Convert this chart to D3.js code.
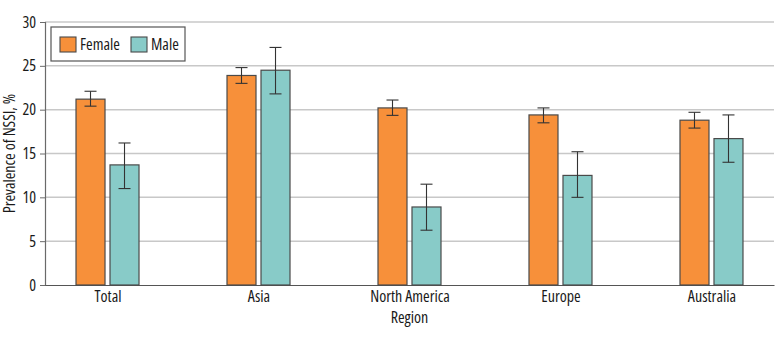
<!DOCTYPE html>
<html>
<head>
<meta charset="utf-8">
<script src="https://cdn.jsdelivr.net/npm/d3@7"></script>
<style>
  body { margin: 0; background: #fff; }
  svg { display: block; }
  svg text { font-stretch: 85%; font-weight: 500; }
</style>
</head>
<body>
<div id="chart"></div>
<script>
// data
var regions = ["Total", "Asia", "North America", "Europe", "Australia"];
var groups = ["Female", "Male"];
var femaleVals = [21.2, 23.9, 20.2, 19.4, 18.8];
var femaleLow = [20.4, 23.0, 19.35, 18.5, 17.9];
var femaleHigh = [22.1, 24.8, 21.1, 20.2, 19.7];
var maleVals = [13.7, 24.5, 8.9, 12.5, 16.7];
var maleLow = [11.0, 21.8, 6.25, 10.0, 14.0];
var maleHigh = [16.2, 27.1, 11.5, 15.2, 19.4];
var yTicks = [0, 5, 10, 15, 20, 25, 30];

var colors = { Female: "#f7903a", Male: "#88cbc8" };
var font = "'Open Sans', 'DejaVu Sans Condensed', sans-serif";
var fs = 16;

var width = 783, height = 338;
var margin = { top: 22, right: 9, bottom: 53, left: 45 };
var innerWidth = width - margin.left - margin.right,
  innerHeight = height - margin.top - margin.bottom;

var rows = [];
regions.forEach(function(r, i) {
  rows.push({ region: r, group: "Female", v: femaleVals[i], lo: femaleLow[i], hi: femaleHigh[i] });
  rows.push({ region: r, group: "Male", v: maleVals[i], lo: maleLow[i], hi: maleHigh[i] });
});

var svg = d3.select("#chart").append("svg")
  .attr("width", width)
  .attr("height", height)
  .attr("font-family", font);

var g = svg.append("g")
  .attr("transform", "translate(" + margin.left + "," + margin.top + ")");

var x0 = d3.scalePoint().domain(regions).range([0, innerWidth]).padding(0.414);
var x1 = d3.scaleBand().domain(groups).range([-31.5, 31.5]).paddingInner(5 / 34);
var y = d3.scaleLinear().domain([0, 30]).range([innerHeight, 0]);

// gridlines
g.append("g").selectAll("line")
  .data(yTicks.filter(function(t) { return t > 0; }))
  .enter().append("line")
  .attr("x1", 0).attr("x2", innerWidth)
  .attr("y1", function(d) { return y(d); })
  .attr("y2", function(d) { return y(d); })
  .attr("stroke", "#c8c8c8")
  .attr("stroke-width", 1.5);

// y axis
var yAxis = g.append("g")
  .call(d3.axisLeft(y).tickValues(yTicks).tickSize(5).tickPadding(4))
  .attr("font-family", font)
  .attr("font-size", fs);
yAxis.select(".domain").attr("stroke", "#6a6a6a").attr("stroke-width", 1.2);
yAxis.selectAll(".tick line").attr("stroke", "#6a6a6a");
yAxis.selectAll("text").attr("fill", "#1a1a1a");

// x axis
var xAxis = g.append("g")
  .attr("transform", "translate(0," + innerHeight + ")")
  .call(d3.axisBottom(x0).tickSize(0).tickPadding(6).tickSizeOuter(0))
  .attr("font-family", font)
  .attr("font-size", fs);
xAxis.select(".domain").attr("stroke", "#555").attr("stroke-width", 1.2);
xAxis.selectAll("text").attr("fill", "#1a1a1a");

// bars
g.append("g").selectAll("rect")
  .data(rows)
  .enter().append("rect")
  .attr("x", function(d) { return x0(d.region) + x1(d.group); })
  .attr("y", function(d) { return y(d.v); })
  .attr("width", x1.bandwidth())
  .attr("height", function(d) { return innerHeight - y(d.v); })
  .attr("fill", function(d) { return colors[d.group]; })
  .attr("stroke", "#4a4a4a")
  .attr("stroke-width", 1.2);

// error bars
var err = g.append("g").selectAll("g")
  .data(rows)
  .enter().append("g")
  .attr("stroke", "#333")
  .attr("stroke-width", 1.1);

function cx(d) { return x0(d.region) + x1(d.group) + x1.bandwidth() / 2; }

err.append("line")
  .attr("x1", cx).attr("x2", cx)
  .attr("y1", function(d) { return y(d.lo); })
  .attr("y2", function(d) { return y(d.hi); });
err.append("line")
  .attr("x1", function(d) { return cx(d) - 6; })
  .attr("x2", function(d) { return cx(d) + 6; })
  .attr("y1", function(d) { return y(d.hi); })
  .attr("y2", function(d) { return y(d.hi); });
err.append("line")
  .attr("x1", function(d) { return cx(d) - 6; })
  .attr("x2", function(d) { return cx(d) + 6; })
  .attr("y1", function(d) { return y(d.lo); })
  .attr("y2", function(d) { return y(d.lo); });

// axis titles
svg.append("text")
  .attr("transform", "translate(15," + (margin.top + innerHeight / 2) + ")rotate(-90)")
  .attr("text-anchor", "middle")
  .attr("font-size", fs)
  .attr("fill", "#1a1a1a")
  .text("Prevalence of NSSI, %");

svg.append("text")
  .attr("x", margin.left + x0("North America"))
  .attr("y", 323)
  .attr("text-anchor", "middle")
  .attr("font-size", fs)
  .attr("fill", "#1a1a1a")
  .text("Region");

// legend
var legend = svg.append("g").attr("transform", "translate(51,27)");
legend.append("rect")
  .attr("width", 134).attr("height", 34)
  .attr("fill", "#fff")
  .attr("stroke", "#555")
  .attr("stroke-width", 1.2);

var items = legend.selectAll(".item")
  .data(groups)
  .enter().append("g")
  .attr("class", "item")
  .attr("transform", function(d, i) { return "translate(" + (i === 0 ? 9 : 80) + ",10)"; });
items.append("rect")
  .attr("width", 16).attr("height", 15)
  .attr("fill", function(d) { return colors[d]; })
  .attr("stroke", "#4a4a4a")
  .attr("stroke-width", 1.1);
items.append("text")
  .attr("x", 20).attr("y", 13)
  .attr("font-size", fs)
  .attr("fill", "#1a1a1a")
  .text(function(d) { return d; });
</script>
</body>
</html>
